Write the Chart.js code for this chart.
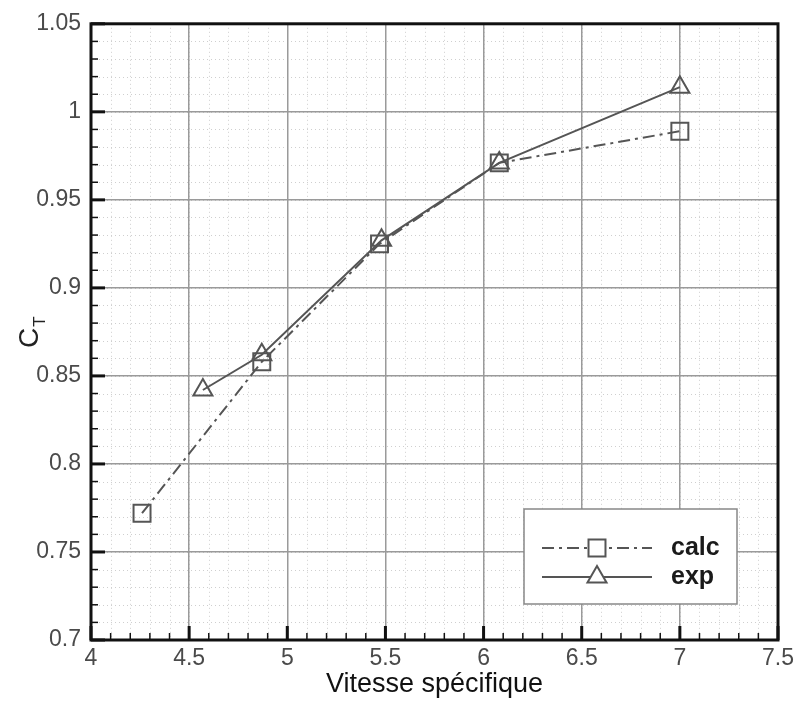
<!DOCTYPE html>
<html>
<head>
<meta charset="utf-8">
<script src="https://cdn.jsdelivr.net/npm/chart.js@4/dist/chart.umd.min.js"></script>
<style>
  html, body { margin: 0; padding: 0; background: #fff; }
  #wrap { width: 802px; height: 703px; }
</style>
</head>
<body>
<div id="wrap"><canvas id="chart" width="802" height="703"></canvas></div>
<script>
// values
const tsrCalc = [4.26, 4.87, 5.47, 6.08, 7.0];
const ctCalc = [0.772, 0.858, 0.925, 0.971, 0.989];
const tsrExp = [4.57, 4.87, 5.48, 6.08, 7.0];
const ctExp = [0.842, 0.862, 0.927, 0.971, 1.014];

const xMin = 4, xMax = 7.5, xStep = 0.5, xMinorStep = 0.1;
const yMin = 0.7, yMax = 1.05, yStep = 0.05, yMinorStep = 0.01;

const FONT = '"Liberation Sans", Arial, Helvetica, sans-serif';
const LINE = '#555';

function toPoints(xs, ys) {
  return xs.map((x, i) => ({ x: x, y: ys[i] }));
}

function minorValues(min, max, step) {
  const out = [];
  const n = Math.round((max - min) / step);
  for (let i = 0; i <= n; i++) out.push(min + i * step);
  return out;
}

const fmt = v => String(parseFloat(Number(v).toFixed(2)));

// minor dotted grid, inward ticks, frame, legend box and the C_T label
const decorations = {
  id: 'decorations',
  beforeDraw(chart) {
    const { ctx, chartArea: a, scales } = chart;
    ctx.save();
    ctx.strokeStyle = '#cfcfcf';
    ctx.lineWidth = 1;
    ctx.setLineDash([1, 3]);
    minorValues(xMin, xMax, xMinorStep).forEach(v => {
      const px = Math.round(scales.x.getPixelForValue(v)) + 0.5;
      ctx.beginPath(); ctx.moveTo(px, a.top); ctx.lineTo(px, a.bottom); ctx.stroke();
    });
    minorValues(yMin, yMax, yMinorStep).forEach(v => {
      const py = Math.round(scales.y.getPixelForValue(v)) + 0.5;
      ctx.beginPath(); ctx.moveTo(a.left, py); ctx.lineTo(a.right, py); ctx.stroke();
    });
    ctx.restore();
  },
  afterDraw(chart) {
    const { ctx, chartArea: a, scales } = chart;
    ctx.save();
    ctx.strokeStyle = '#111';

    // inward ticks on left and bottom axes
    minorValues(xMin, xMax, xMinorStep).forEach((v, i) => {
      const major = i % 5 === 0;
      const px = scales.x.getPixelForValue(v);
      ctx.lineWidth = major ? 3 : 1.5;
      ctx.beginPath(); ctx.moveTo(px, a.bottom); ctx.lineTo(px, a.bottom - (major ? 14 : 7)); ctx.stroke();
    });
    minorValues(yMin, yMax, yMinorStep).forEach((v, i) => {
      const major = i % 5 === 0;
      const py = scales.y.getPixelForValue(v);
      ctx.lineWidth = major ? 3 : 1.5;
      ctx.beginPath(); ctx.moveTo(a.left, py); ctx.lineTo(a.left + (major ? 14 : 7), py); ctx.stroke();
    });

    // frame
    ctx.lineWidth = 3;
    ctx.strokeRect(a.left, a.top, a.right - a.left, a.bottom - a.top);

    // legend
    const bx = a.right - 254, by = a.bottom - 131, bw = 213, bh = 95;
    ctx.fillStyle = '#fff';
    ctx.fillRect(bx, by, bw, bh);
    ctx.strokeStyle = '#888';
    ctx.lineWidth = 1.5;
    ctx.strokeRect(bx, by, bw, bh);

    const rows = [
      { ds: chart.data.datasets[0], y: by + 39 },
      { ds: chart.data.datasets[1], y: by + 68 }
    ];
    rows.forEach(r => {
      const x0 = bx + 18, x1 = bx + 128, xm = (x0 + x1) / 2;
      const style = {
        pointStyle: r.ds.pointStyle,
        radius: r.ds.pointRadius,
        rotation: 0,
        borderWidth: r.ds.pointBorderWidth
      };
      ctx.strokeStyle = r.ds.borderColor;
      ctx.lineWidth = r.ds.borderWidth;
      ctx.setLineDash(r.ds.borderDash || []);
      ctx.beginPath(); ctx.moveTo(x0, r.y); ctx.lineTo(x1, r.y); ctx.stroke();
      ctx.setLineDash([]);
      ctx.fillStyle = '#fff';
      ctx.lineWidth = r.ds.pointBorderWidth;
      Chart.helpers.drawPoint(ctx, style, xm, r.y);
      ctx.fillStyle = '#1a1a1a';
      ctx.font = 'bold 25px ' + FONT;
      ctx.textBaseline = 'middle';
      ctx.textAlign = 'left';
      ctx.fillText(r.ds.label, bx + 147, r.y);
    });

    // y axis title C_T
    ctx.save();
    ctx.translate(38, (a.top + a.bottom) / 2);
    ctx.rotate(-Math.PI / 2);
    ctx.fillStyle = '#222';
    ctx.textBaseline = 'alphabetic';
    ctx.textAlign = 'left';
    ctx.font = '28px ' + FONT;
    const cw = ctx.measureText('C').width;
    ctx.fillText('C', -cw / 2 - 6, 0);
    ctx.font = '17px ' + FONT;
    ctx.fillText('T', cw / 2 - 5, 7);
    ctx.restore();

    ctx.restore();
  }
};

new Chart(document.getElementById('chart'), {
  type: 'scatter',
  data: {
    datasets: [
      {
        label: 'calc',
        data: toPoints(tsrCalc, ctCalc),
        showLine: true,
        borderColor: LINE,
        borderWidth: 2,
        borderDash: [12, 5, 3, 5],
        pointStyle: 'rect',
        pointRadius: 12,
        pointBorderWidth: 2,
        pointBorderColor: LINE,
        pointBackgroundColor: 'rgba(255,255,255,0)'
      },
      {
        label: 'exp',
        data: toPoints(tsrExp, ctExp),
        showLine: true,
        borderColor: LINE,
        borderWidth: 2,
        pointStyle: 'triangle',
        pointRadius: 11,
        pointBorderWidth: 2,
        pointBorderColor: LINE,
        pointBackgroundColor: 'rgba(255,255,255,0)'
      }
    ]
  },
  options: {
    responsive: false,
    animation: false,
    layout: { padding: { left: 0, top: 20, right: 24, bottom: 0 } },
    plugins: {
      legend: { display: false },
      tooltip: { enabled: false }
    },
    scales: {
      x: {
        type: 'linear',
        min: xMin,
        max: xMax,
        border: { display: false },
        grid: { color: '#9a9a9a', lineWidth: 1.5, drawTicks: false },
        ticks: {
          stepSize: xStep,
          padding: 5,
          color: '#4a4a4a',
          font: { family: FONT, size: 23 },
          maxRotation: 0,
          callback: fmt
        },
        title: {
          display: true,
          text: 'Vitesse spécifique',
          color: '#111',
          font: { family: FONT, size: 27 },
          padding: { top: 0, bottom: 2 }
        },
        afterFit(scale) { scale.height = 63; }
      },
      y: {
        type: 'linear',
        min: yMin,
        max: yMax,
        border: { display: false },
        grid: { color: '#9a9a9a', lineWidth: 1.5, drawTicks: false },
        ticks: {
          stepSize: yStep,
          padding: 10,
          color: '#4a4a4a',
          font: { family: FONT, size: 23 },
          callback: fmt
        },
        afterFit(scale) { scale.width = 91; }
      }
    }
  },
  plugins: [decorations]
});
</script>
</body>
</html>
